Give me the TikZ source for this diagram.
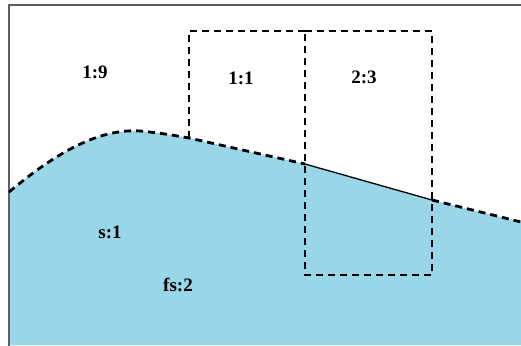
\documentclass[tikz,border=0pt]{standalone}
\usepackage{fontspec}
\setmainfont{Liberation Serif}
\definecolor{water}{RGB}{152,214,232}
\definecolor{frame}{RGB}{95,95,95}
\tikzset{
  dashline/.style={line width=2.8pt, dash pattern=on 7pt off 5pt},
  lbl/.style={font=\bfseries\fontsize{19}{21}\selectfont, inner sep=0pt}
}
\begin{document}
\begin{tikzpicture}[x=1pt,y=-1pt]
\useasboundingbox (0,0) rectangle (521,345);
\clip (0,0) rectangle (521,345);
% water fill
\fill[water] (9,192) .. controls (50,158) and (95,128) .. (140,131)
  .. controls (160,133) and (172,135) .. (189,138) -- (305,164) -- (432,200) -- (521,222)
  -- (521,345) -- (9,345) -- cycle;
% frame
\draw[frame, line width=1.6pt] (9,360) -- (9,5) -- (540,5);
% dashed surface
\draw[dashline] (9,192) .. controls (50,158) and (95,128) .. (140,131)
  .. controls (160,133) and (172,135) .. (189,138) -- (305,164);
\draw[line width=1.3pt] (305,164) -- (432,200);
\draw[dashline] (432,200) -- (521,222);
% boxes
\draw[dashline] (189,138) -- (189,31) -- (305,31);
\draw[dashline] (305,31) -- (432,31) -- (432,275) -- (305,275) -- (305,31);
% labels
\node[lbl] (a) at (95,72) {1:9};
\node[lbl] (b) at (241,78) {1:1};
\node[lbl] (c) at (364,77) {2:3};
\node[lbl] (d) at (110,232) {s:1};
\node[lbl] (e) at (178,285) {fs:2};
\end{tikzpicture}
\end{document}
